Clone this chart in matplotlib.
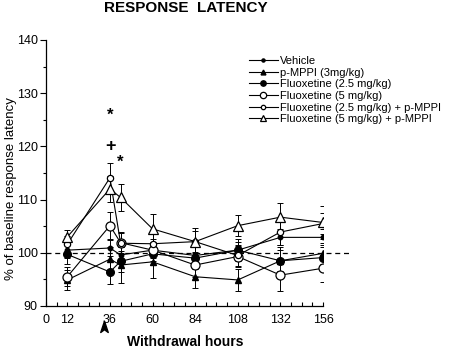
import matplotlib
matplotlib.use("Agg")
import matplotlib.pyplot as plt
from matplotlib.path import Path
from matplotlib.ticker import MultipleLocator, FixedLocator
import numpy as np

plt.rcParams['font.family'] = ['Liberation Sans', 'DejaVu Sans']

hours = [12, 36, 42, 60, 84, 108, 132, 156]
series_names = ["Vehicle", "p-MPPI (3mg/kg)", "Fluoxetine (2.5 mg/kg)", "Fluoxetine (5 mg/kg)",
                "Fluoxetine (2.5 mg/kg) + p-MPPI", "Fluoxetine (5 mg/kg) + p-MPPI"]
vehicle     = [100.5, 100.9, 99.6, 100.5, 99.5, 100.5, 102.9, 102.9]
pmppi       = [94.9, 98.8, 97.7, 98.3, 95.5, 94.9, 98.5, 99.9]
fluox25     = [99.7, 96.4, 98.4, 99.8, 99.0, 100.5, 98.5, 99.1]
fluox5      = [95.5, 105.1, 101.9, 100.5, 97.7, 99.3, 95.8, 97.1]
fluox25_mp  = [101.6, 114.1, 101.8, 101.7, 102.1, 99.5, 103.9, 105.5]
fluox5_mp   = [103.0, 112.0, 110.4, 104.5, 102.1, 105.1, 106.7, 105.7]
err_vehicle    = [1.5, 1.5, 1.5, 1.5, 1.5, 1.5, 1.5, 1.5]
err_pmppi      = [1.9, 2.2, 3.3, 3.0, 2.2, 2.0, 2.0, 2.0]
err_fluox25    = [1.8, 2.2, 2.0, 2.0, 2.0, 2.0, 2.5, 2.0]
err_fluox5     = [1.8, 2.5, 2.0, 2.0, 2.2, 2.0, 2.9, 2.5]
err_fluox25_mp = [1.5, 2.8, 2.0, 2.0, 2.5, 2.0, 2.5, 2.0]
err_fluox5_mp  = [1.2, 2.5, 2.6, 2.7, 2.0, 2.0, 2.6, 3.1]

star_labels = ["*", "+", "*"]
star_x = [36, 36.5, 42]
star_y = [125.9, 120.0, 117.0]

xtick_labels = [0, 12, 36, 60, 84, 108, 132, 156]

fig = plt.figure(figsize=(4.5, 3.48), dpi=100)
ax = fig.add_axes([46/450, 1-306/348, (323-46)/450, (306-40)/348])

styles = [
    dict(marker='o', ms=3.2, mfc='black', mec='black'),
    dict(marker='^', ms=5, mfc='black', mec='black'),
    dict(marker='o', ms=5.5, mfc='black', mec='black'),
    dict(marker='o', ms=6.5, mfc='white', mec='black', mew=0.9),
    dict(marker='o', ms=4.5, mfc='white', mec='black', mew=0.9),
    dict(marker='^', ms=6.5, mfc='white', mec='black', mew=0.9),
]
data = [vehicle, pmppi, fluox25, fluox5, fluox25_mp, fluox5_mp]
errs = [err_vehicle, err_pmppi, err_fluox25, err_fluox5, err_fluox25_mp, err_fluox5_mp]

ax.plot([0, 171], [100, 100], ls=(0, (4, 3)), color='black', lw=0.9, clip_on=False, zorder=1)

handles = []
for name, y, e, st in zip(series_names, data, errs, styles):
    ax.errorbar(hours, y, yerr=e, fmt='none', ecolor='black', elinewidth=0.7,
                capsize=2, capthick=0.7, zorder=2)
    h, = ax.plot(hours, y, color='black', lw=0.8, label=name, zorder=3, **st)
    handles.append(h)

for s, x, y in zip(star_labels, star_x, star_y):
    ax.text(x, y, s, ha='center', va='center', fontsize=13 if s == '+' else 12,
            fontweight='bold')

ax.set_xlim(0, 156)
ax.set_ylim(90, 140)
ax.spines['top'].set_visible(False)
ax.spines['right'].set_visible(False)
ax.spines['left'].set_linewidth(0.9)
ax.spines['bottom'].set_linewidth(0.9)
ax.xaxis.set_major_locator(FixedLocator(xtick_labels))
ax.xaxis.set_minor_locator(MultipleLocator(6))
ax.yaxis.set_major_locator(MultipleLocator(10))
ax.yaxis.set_minor_locator(MultipleLocator(5))
ax.tick_params(axis='x', which='both', direction='in', length=3, width=0.8, labelsize=9, pad=6)
ax.tick_params(axis='y', which='major', direction='out', length=4, width=0.8, labelsize=9, pad=2)
ax.tick_params(axis='y', which='minor', direction='out', length=2.5, width=0.8)

ax.set_ylabel("% of baseline response latency", fontsize=9.5)
ax.yaxis.set_label_coords((17-46)/277, 0.44)

leg = fig.legend(handles=handles, loc='upper left', bbox_to_anchor=(249/450, 1-56/348),
                 frameon=False, fontsize=8, handlelength=2.6, handletextpad=0.15,
                 labelspacing=0.15, borderpad=0, borderaxespad=0, markerscale=0.7)

fig.text(186/450, 1-8/348, "RESPONSE  LATENCY", ha='center', va='center',
         fontsize=11, fontweight='bold')
fig.text(185/450, 1-342/348, "Withdrawal hours", ha='center', va='center',
         fontsize=10, fontweight='bold')

arrow = Path([(0, 1), (-0.6, -0.8), (0, -0.35), (0.6, -0.8), (0, 1)],
             [Path.MOVETO, Path.LINETO, Path.LINETO, Path.LINETO, Path.CLOSEPOLY])
fig.lines.append(plt.Line2D([104/450], [1-327/348], marker=arrow, ms=9, color='black',
                            transform=fig.transFigure, figure=fig))

fig.savefig("out.png", dpi=100)
